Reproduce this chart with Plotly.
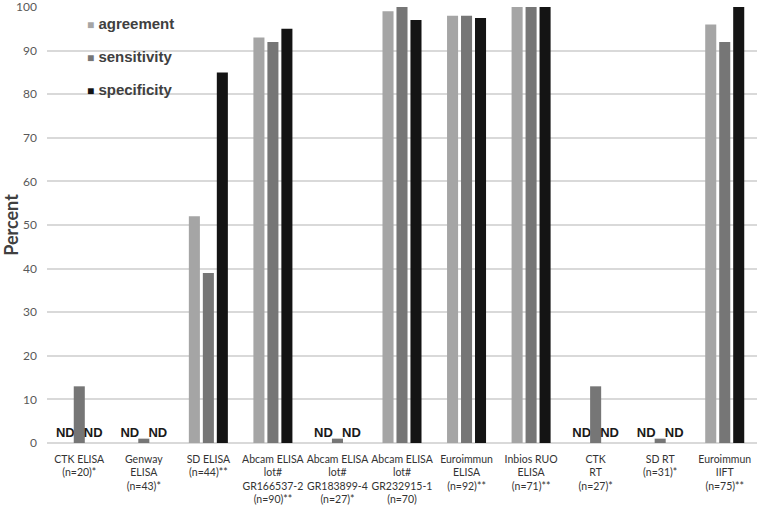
import plotly.graph_objects as go

categories = [
    "CTK ELISA<br>(n=20)*",
    "Genway<br>ELISA<br>(n=43)*",
    "SD ELISA<br>(n=44)**",
    "Abcam ELISA<br>lot#<br>GR166537-2<br>(n=90)**",
    "Abcam ELISA<br>lot#<br>GR183899-4<br>(n=27)*",
    "Abcam ELISA<br>lot#<br>GR232915-1<br>(n=70)",
    "Euroimmun<br>ELISA<br>(n=92)**",
    "Inbios RUO<br>ELISA<br>(n=71)**",
    "CTK<br>RT<br>(n=27)*",
    "SD RT<br>(n=31)*",
    "Euroimmun<br>IIFT<br>(n=75)**",
]

# None = ND (not determined)
agreement = [None, None, 52, 93, None, 99, 98, 100, None, None, 96]
sensitivity = [13, 1, 39, 92, 1, 100, 98, 100, 13, 1, 92]
specificity = [None, None, 85, 95, None, 97, 97.5, 100, None, None, 100]

y_ticks = [0, 10, 20, 30, 40, 50, 60, 70, 80, 90, 100]

series = [
    ("agreement", agreement, "#A5A5A5"),
    ("sensitivity", sensitivity, "#767676"),
    ("specificity", specificity, "#141414"),
]

fig = go.Figure()
for i, (name, vals, color) in enumerate(series):
    yv = [0 if v is None else v for v in vals]
    txt = ["ND" if v is None else "" for v in vals]
    fig.add_trace(go.Bar(
        name=name, x=categories, y=yv, marker_color=color,
        marker_line_width=0,
        text=txt, textposition="outside", cliponaxis=False,
        constraintext="none",
        textfont=dict(family="Liberation Sans", size=13, color="#1a1a1a", weight="bold"),
        hoverinfo="x+y+name",
        showlegend=False,
    ))
    # legend drawn as text annotations
    fig.add_annotation(
        xref="paper", yref="paper", x=0.054, y=0.962 - i * 0.0755,
        xanchor="left", yanchor="middle", showarrow=False,
        text=f'<span style="color:{color};font-size:12px">■</span> {name}',
        font=dict(family="Liberation Sans", size=15, color="#404040", weight="bold"),
    )

fig.update_layout(
    width=760, height=508,
    margin=dict(l=47, r=3, t=7, b=65, autoexpand=False),
    paper_bgcolor="white", plot_bgcolor="white",
    barmode="group", bargap=0.35, bargroupgap=0.21,
    showlegend=False,
    xaxis=dict(
        showgrid=False, showline=False, ticks="", tickangle=0, automargin=False,
        tickfont=dict(family="Lato", size=10.5, color="#333333"),
        ticklabelstandoff=8,
        fixedrange=True,
    ),
    yaxis=dict(
        range=[0, 100], tickvals=y_ticks, automargin=False,
        showgrid=True, gridcolor="#D9D9D9", gridwidth=1.5,
        zeroline=True, zerolinecolor="#D9D9D9", zerolinewidth=1.5,
        showline=False, ticks="",
        tickfont=dict(family="Lato", size=12, color="#595959"),
        ticklabelstandoff=9, ticklabeloverflow="allow",
        title=dict(text="Percent", font=dict(family="Lato", size=18, color="#404040", weight="bold"), standoff=2),
    ),
)

fig.write_html("out.html", config={"displayModeBar": False},
               post_script="document.body.style.margin='0';")
